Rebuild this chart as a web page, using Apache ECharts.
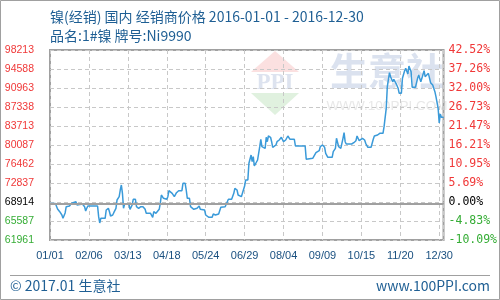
<!DOCTYPE html>
<html><head><meta charset="utf-8">
<script src="https://cdn.jsdelivr.net/npm/echarts@6/dist/echarts.min.js"></script>
<style>html,body{margin:0;padding:0;background:#fff}#c{width:500px;height:300px}</style>
</head><body><div id="c"></div>
<script>
const titleText = '镍(经销) 国内 经销商价格 2016-01-01 - 2016-12-30';
const subTitle = '品名:1#镍 牌号:Ni9990';
const footLeft = '© 2017.01 生意社';
const footRight = 'www.100PPI.com';
const basePrice = 68914;
const priceMin = 61961;
const priceMax = 98213;
const xLabels = ['01/01','02/06','03/13','04/18','05/24','06/29','08/04','09/09','10/15','11/20','12/30'];
const leftLabels = ['61961','65587','68914','72837','76462','80087','83713','87338','90963','94588','98213'];
const rightLabels = ['-10.09%','-4.83%','0.00%','5.69%','10.95%','16.21%','21.47%','26.73%','32.00%','37.26%','42.52%'];
const days = [0,5,7,9,11,12,14,15,18,20,
21,24,25,26,30,32,33,34,35,44,
45,46,47,51,52,54,55,56,58,59,
61,62,64,65,66,67,68,69,73,74,
76,77,79,80,81,82,84,86,88,89,
93,95,96,98,99,101,102,103,105,108,
109,110,111,113,115,117,119,122,123,125,
126,127,129,130,131,133,136,138,139,143,
144,147,150,151,153,156,158,162,165,168,
170,171,173,174,177,178,180,181,183,184,
186,187,188,189,190,192,194,195,196,197,
199,200,201,202,204,205,206,209,210,212,
214,216,218,220,222,226,227,236,237,243,
244,246,249,250,252,254,255,257,261,262,
264,265,267,269,271,272,273,274,279,281,
283,284,286,287,289,291,292,294,297,299,
300,303,305,306,308,309,311,312,314,315,
317,318,320,322,323,325,326,328,329,331,
332,334,335,338,340,341,343,346,347,350,
352,354,356,357,359,360,361,362,364];
const prices = [68914,68914,67876,67361,66731,66101,67113,68315,68448,68963,
69269,69269,68639,68963,68830,68315,67494,68009,68448,68448,
66407,65205,66101,66101,67685,68009,67361,66540,66731,67170,
68009,69593,70223,71501,72455,70871,68009,68830,68830,67819,
68639,69727,69727,68315,68448,68009,68315,68315,67819,67055,
67055,66292,67361,67055,67055,67819,68963,70547,69917,69727,
70223,71367,71635,70871,70223,70986,71367,71367,72779,72779,
71501,69917,69917,68315,68448,67819,68009,68448,67819,67685,
66731,66292,66292,66922,66731,66922,68200,68315,69727,69727,
70871,71825,71501,70547,70223,69917,72264,73409,73409,76595,
78179,76901,77855,76080,76080,77225,79763,81175,79763,80087,
79457,81556,80717,81804,81556,80717,79648,80087,80717,81041,
81556,80717,81041,81804,81175,81175,79896,79896,77359,77549,
77359,78618,78999,79763,80087,79648,78503,77740,77740,78809,
79457,81365,79763,79457,81365,82434,80717,80278,80278,80526,
80907,81804,80907,81041,81365,81041,80411,79648,79648,81175,
81804,81995,82319,82625,82319,83579,87089,91211,93882,93119,
92165,92623,91859,90905,89951,89951,92813,94263,94721,93634,
95160,94073,91096,91096,92813,93443,92165,94263,93119,93767,
91974,91535,90257,89303,87089,84300,86000,85372,85372];

const seriesData = days.map((d, i) => [d, prices[i]]);
const styleKey = (i) => i < 2 ? 'g' : (i === 2 ? 'k' : 'r');
const gridColor = '#c8c8c8';
const blue = '#1f5f94';
const richL = {
  r: {color: '#f03838', fontSize: 10.5, fontFamily: 'Liberation Sans'},
  g: {color: '#35ad35', fontSize: 10.5, fontFamily: 'Liberation Sans'},
  k: {color: '#000000', fontSize: 10.5, fontFamily: 'Liberation Sans'}
};
const richR = {
  r: {color: '#f03838', fontSize: 11.5, fontFamily: 'DejaVu Sans Mono'},
  g: {color: '#35ad35', fontSize: 11.5, fontFamily: 'DejaVu Sans Mono'},
  k: {color: '#000000', fontSize: 11.5, fontFamily: 'DejaVu Sans Mono'}
};

const chart = echarts.init(document.getElementById('c'), null, {renderer: 'canvas'});
chart.setOption({
  animation: false,
  backgroundColor: '#fff',
  grid: {left: 50, right: 50, top: 50, bottom: 60, show: true, borderColor: '#a0a0a0', borderWidth: 2, backgroundColor: 'transparent'},
  xAxis: {
    type: 'value', min: 0, max: 364, interval: 36,
    axisLine: {show: false}, axisTick: {show: false},
    axisLabel: {
      margin: 10, color: '#1a5080', fontSize: 11, fontFamily: 'Liberation Sans',
      showMaxLabel: false,
      formatter: (v) => (v % 36 === 0 && xLabels[v / 36]) ? xLabels[v / 36] : ''
    },
    splitLine: {show: true, lineStyle: {color: gridColor, type: [4, 3], width: 1}}
  },
  yAxis: [
    {
      type: 'value', min: 0, max: 10, interval: 1, position: 'left',
      axisLine: {show: false}, axisTick: {show: false},
      axisLabel: {
        margin: 16, rich: richL,
        formatter: (v) => '{' + styleKey(v) + '|' + leftLabels[v] + '}'
      },
      splitLine: {show: true, lineStyle: {color: gridColor, type: [4, 3], width: 1}}
    },
    {
      type: 'value', min: 0, max: 10, interval: 1, position: 'right',
      axisLine: {show: false}, axisTick: {show: false},
      axisLabel: {
        margin: 5, rich: richR,
        formatter: (v) => '{' + styleKey(v) + '|' + rightLabels[v] + '}'
      },
      splitLine: {show: false}
    },
    {
      type: 'value', min: priceMin, max: priceMax, show: false,
      splitLine: {show: false}
    }
  ],
  graphic: [
    {type: 'rect', z: -10, silent: true, shape: {x: 0.5, y: 0.5, width: 499, height: 299}, style: {fill: 'none', stroke: '#a0a0a0', lineWidth: 1}},
    {type: 'polygon', z: -5, silent: true, shape: {points: [[251, 72], [275, 51], [299, 72]]}, style: {fill: '#fbe0e0'}},
    {type: 'polygon', z: -5, silent: true, shape: {points: [[251, 93], [299, 93], [275, 115]]}, style: {fill: '#e0f1df'}},
    {type: 'text', z: -4, silent: true, style: {text: 'PPI', x: 275, y: 83, textAlign: 'center', textVerticalAlign: 'middle', font: 'bold 23px "Liberation Serif"', fill: '#dde3ef'}},
    {type: 'text', z: -4, silent: true, style: {text: '生意社', x: 387, y: 71, textAlign: 'center', textVerticalAlign: 'middle', font: 'bold 38px "Noto Sans CJK SC"', fill: '#dbe2ef'}},
    {type: 'text', z: -4, silent: true, style: {text: 'WWW.100PPI.COM', x: 387, y: 106, textAlign: 'center', textVerticalAlign: 'middle', font: '13.5px "Liberation Sans"', fill: '#e8e8e8'}},
    {type: 'text', silent: true, style: {text: titleText, x: 50, y: 17, textVerticalAlign: 'middle', font: '14px "Noto Sans CJK SC"', fill: blue}},
    {type: 'text', silent: true, style: {text: subTitle, x: 50, y: 36, textVerticalAlign: 'middle', font: '14px "Noto Sans CJK SC"', fill: blue}},
    {type: 'line', silent: true, shape: {x1: 10, y1: 275.5, x2: 490, y2: 275.5}, style: {stroke: '#a0a0a0', lineWidth: 1}},
    {type: 'text', silent: true, style: {text: footLeft, x: 10, y: 286, textVerticalAlign: 'middle', font: '14px "Noto Sans CJK SC"', fill: blue}},
    {type: 'text', silent: true, style: {text: footRight, x: 490, y: 286, textAlign: 'right', textVerticalAlign: 'middle', font: '14px "Noto Sans CJK SC"', fill: blue}}
  ],
  series: [{
    type: 'line', xAxisIndex: 0, yAxisIndex: 2,
    data: seriesData, showSymbol: false, symbol: 'none',
    lineStyle: {color: '#3a9ad9', width: 1.5},
    markLine: {
      silent: true, symbol: 'none', label: {show: false},
      lineStyle: {color: '#a0a0a0', type: 'solid', width: 2},
      data: [{yAxis: basePrice}]
    }
  }]
});
</script></body></html>
